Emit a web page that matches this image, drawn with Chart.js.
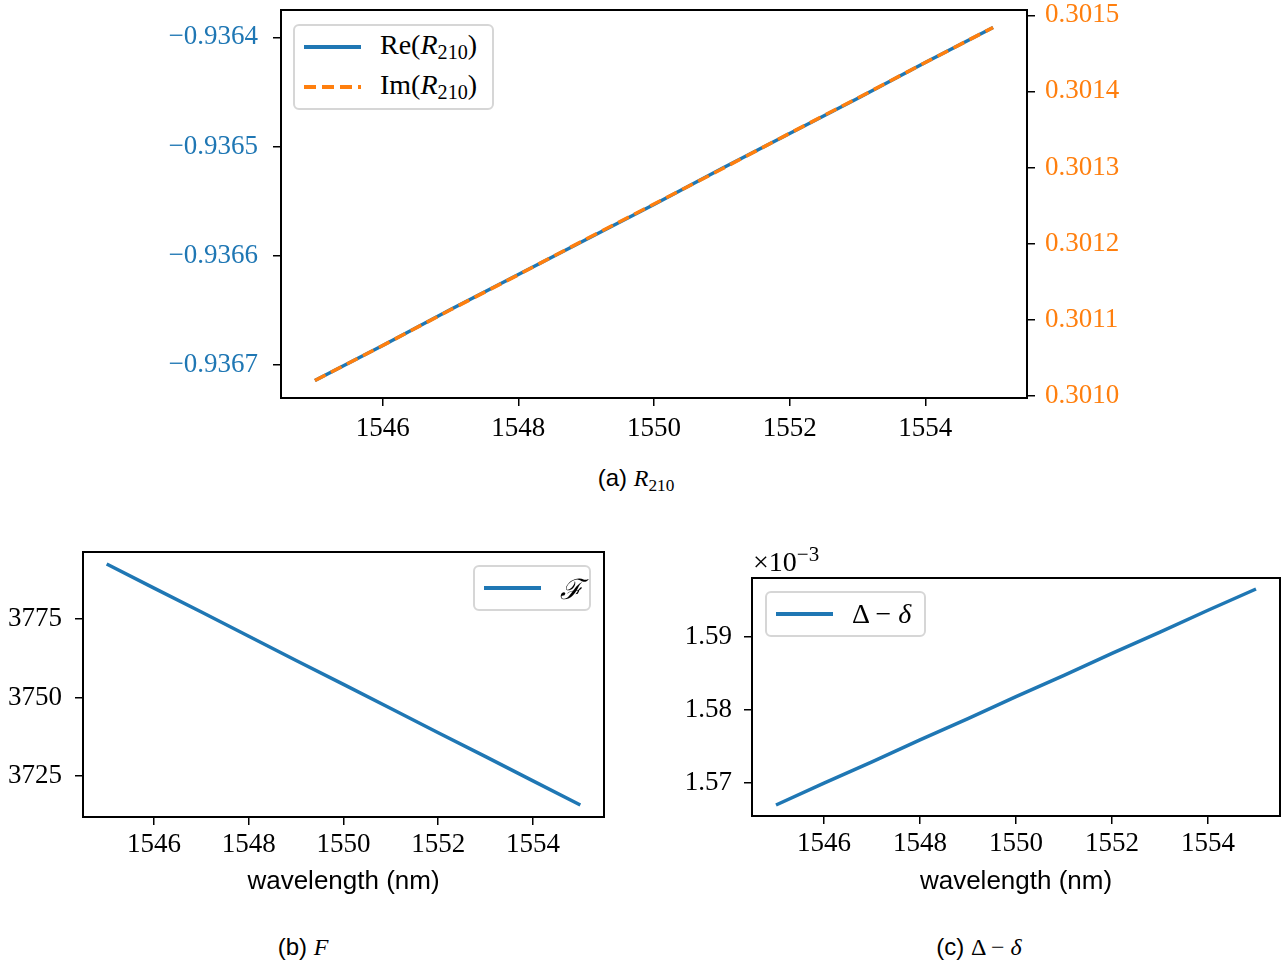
<!DOCTYPE html>
<html>
<head>
<meta charset="utf-8">
<script src="https://cdn.jsdelivr.net/npm/chart.js@4/dist/chart.umd.min.js"></script>
<style>
  body { margin: 0; background: #fff; width: 1281px; height: 963px; position: relative; overflow: hidden; }
  .box { position: absolute; }
  .cap { position: absolute; font-family: "Liberation Sans", sans-serif; font-size: 24px; color: #000;
         transform: translate(-50%, -50%); white-space: nowrap; }
  .m { font-family: "Liberation Serif", serif; font-style: italic; }
  .up { font-family: "Liberation Serif", serif; }
  sub { font-size: 0.72em; vertical-align: -0.25em; font-style: normal; }
  .legend { position: absolute; box-sizing: border-box; border: 2px solid #d6d6d6; border-radius: 6px;
            background: #fff; font-family: "Liberation Serif", serif; font-size: 28px; color: #000; }
  .row { position: absolute; left: 9px; height: 30px; display: flex; align-items: center; white-space: nowrap; }
  .sample { width: 57px; height: 3.5px; margin-right: 19px; }
  .solid { background: #1f77b4; }
  .dash { background: repeating-linear-gradient(90deg, #ff7f0e 0 12px, transparent 12px 18px); }
</style>
</head>
<body>

<div class="box" style="left:140px; top:0; width:1000px; height:445px;"><canvas id="chartA"></canvas></div>
<div class="box" style="left:0; top:540px; width:620px; height:361px;"><canvas id="chartB"></canvas></div>
<div class="box" style="left:660px; top:540px; width:621px; height:361px;"><canvas id="chartC"></canvas></div>

<div class="legend" style="left:293px; top:24px; width:201px; height:86px;">
  <div class="row" style="top:6px;"><span class="sample solid"></span><span>Re(<span class="m">R</span><sub>210</sub>)</span></div>
  <div class="row" style="top:46px;"><span class="sample dash"></span><span>Im(<span class="m">R</span><sub>210</sub>)</span></div>
</div>
<div class="legend" style="left:473px; top:565px; width:118px; height:46px;">
  <div class="row" style="top:6px;"><span class="sample solid"></span><span class="m">ℱ</span></div>
</div>
<div class="legend" style="left:765px; top:591px; width:161px; height:46px;">
  <div class="row" style="top:6px;"><span class="sample solid"></span><span>Δ − <span class="m">δ</span></span></div>
</div>

<div class="up" style="position:absolute; left:753px; top:542px; font-size:28px;">×10<sup style="font-size:0.75em;">−3</sup></div>

<div class="cap" style="left:636px; top:480px;">(a) <span class="m">R</span><sub class="up">210</sub></div>
<div class="cap" style="left:303px; top:947px;">(b) <span class="m">F</span></div>
<div class="cap" style="left:979px; top:947px;">(c) <span class="up">Δ − <span class="m">δ</span></span></div>

<script>
// wavelength in nm
const WAVELENGTH = [1545, 1546, 1547, 1548, 1549, 1550, 1551, 1552, 1553, 1554, 1555];
const RE_R210 = [-0.936714, -0.936682, -0.936649, -0.936617, -0.936585, -0.936553,
                 -0.936520, -0.936488, -0.936456, -0.936423, -0.936391];
const IM_R210 = [0.301020, 0.301066, 0.301113, 0.301159, 0.301206, 0.301252,
                 0.301298, 0.301345, 0.301391, 0.301438, 0.301484];
const F_VALUES = [3792.5, 3784.8, 3777.2, 3769.5, 3761.8, 3754.2, 3746.5, 3738.8, 3731.2, 3723.5, 3715.8];
const DELTA_MINUS_DELTA = [1.5670e-3, 1.5700e-3, 1.5729e-3, 1.5759e-3, 1.5788e-3, 1.5818e-3,
                           1.5847e-3, 1.5877e-3, 1.5906e-3, 1.5936e-3, 1.5965e-3];

const X_TICKS = [1546, 1548, 1550, 1552, 1554];
const RE_TICKS = [-0.9367, -0.9366, -0.9365, -0.9364];
const IM_TICKS = [0.3010, 0.3011, 0.3012, 0.3013, 0.3014, 0.3015];
const F_TICKS = [3725, 3750, 3775];
const D_TICKS = [1.57e-3, 1.58e-3, 1.59e-3];

const BLUE = "#1f77b4";
const ORANGE = "#ff7f0e";
const SERIF = "'Liberation Serif', serif";

const frame = {
  id: "frame",
  afterDraw(chart) {
    const a = chart.chartArea, ctx = chart.ctx;
    ctx.save();
    ctx.strokeStyle = "#000";
    ctx.lineWidth = 2;
    ctx.strokeRect(a.left, a.top, a.right - a.left, a.bottom - a.top);
    ctx.restore();
  }
};

function pts(ys) {
  return WAVELENGTH.map((w, i) => ({ x: w, y: ys[i] }));
}

function fixedTicks(list) {
  return axis => { axis.ticks = list.map(v => ({ value: v })); };
}

const tickGrid = { display: true, drawOnChartArea: false, drawTicks: true, tickLength: 8, color: "#000", lineWidth: 1.5 };

function xAxis(height, withTitle, pad) {
  return {
    type: "linear", min: 1544.5, max: 1555.5,
    afterBuildTicks: fixedTicks(X_TICKS),
    afterFit: s => { s.height = height; s.paddingLeft = 0; s.paddingRight = 0; },
    grid: tickGrid,
    border: { display: false },
    ticks: { color: "#000", padding: pad, maxRotation: 0, font: { family: SERIF, size: 27 }, callback: v => String(v) },
    title: { display: withTitle, text: "wavelength (nm)", color: "#000", padding: 4,
             font: { family: "'Liberation Sans', sans-serif", size: 26 } }
  };
}

function yAxis(width, min, max, list, color, fmt, pos, pad) {
  return {
    type: "linear", position: pos, min: min, max: max,
    afterBuildTicks: fixedTicks(list),
    // no extra room for the end labels, the plot box is placed by hand
    afterFit: s => { s.width = width; s.paddingTop = 0; s.paddingBottom = 0; },
    grid: tickGrid,
    border: { display: false },
    ticks: { color: color, padding: pad, font: { family: SERIF, size: 27 }, callback: fmt }
  };
}

const base = {
  responsive: true,
  maintainAspectRatio: false,
  animation: false,
  plugins: { legend: { display: false }, tooltip: { enabled: false } },
  elements: { point: { radius: 0 }, line: { borderWidth: 3.5, tension: 0 } }
};

// (a) R_210, two y axes
new Chart(document.getElementById("chartA"), {
  type: "line",
  data: {
    datasets: [
      { label: "Re(R210)", data: pts(RE_R210), borderColor: BLUE, yAxisID: "y", order: 1 },
      { label: "Im(R210)", data: pts(IM_R210), borderColor: ORANGE, borderDash: [12, 6], yAxisID: "y1", order: 0 }
    ]
  },
  options: Object.assign({}, base, {
    layout: { padding: { top: 10, left: 0, right: 0, bottom: 0 } },
    scales: {
      x: xAxis(47, false, 7),
      y: yAxis(141, -0.93673, -0.936375, RE_TICKS, BLUE, v => "\u2212" + Math.abs(v).toFixed(4), "left", 15),
      y1: yAxis(113, 0.300997, 0.301507, IM_TICKS, ORANGE, v => v.toFixed(4), "right", 10)
    }
  }),
  plugins: [frame]
});

// (b) F
new Chart(document.getElementById("chartB"), {
  type: "line",
  data: { datasets: [{ label: "F", data: pts(F_VALUES), borderColor: BLUE }] },
  options: Object.assign({}, base, {
    layout: { padding: { top: 12, left: 0, right: 16, bottom: 0 } },
    scales: {
      x: xAxis(84, true, 4),
      y: yAxis(83, 3712.0, 3796.3, F_TICKS, "#000", v => String(v), "left", 13)
    }
  }),
  plugins: [frame]
});

// (c) Delta - delta
new Chart(document.getElementById("chartC"), {
  type: "line",
  data: { datasets: [{ label: "Δ − δ", data: pts(DELTA_MINUS_DELTA), borderColor: BLUE }] },
  options: Object.assign({}, base, {
    layout: { padding: { top: 38, left: 0, right: 1, bottom: 0 } },
    scales: {
      x: xAxis(85, true, 4),
      y: yAxis(92, 1.5655e-3, 1.5980e-3, D_TICKS, "#000", v => (v * 1000).toFixed(2), "left", 12)
    }
  }),
  plugins: [frame]
});
</script>
</body>
</html>
